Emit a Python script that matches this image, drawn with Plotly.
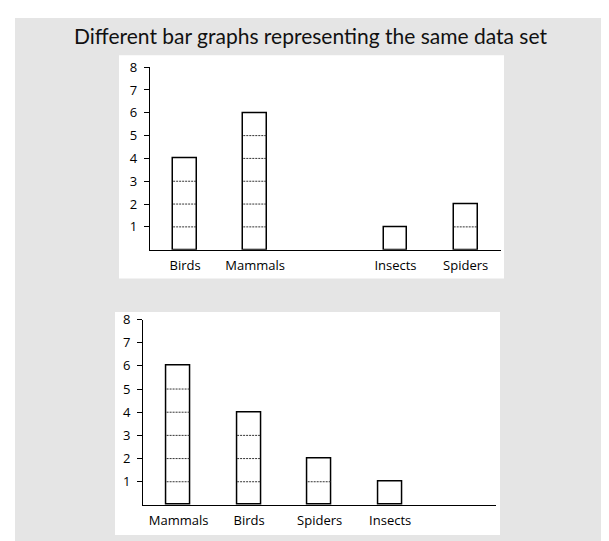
import plotly.graph_objects as go

# ---- data ----
animals = ["Birds", "Mammals", "Insects", "Spiders"]
counts = [4, 6, 1, 2]
top_order = ["Birds", "Mammals", " ", "Insects", "Spiders"]   # " " = empty gap slot
bottom_order = ["Mammals", "Birds", "Spiders", "Insects"]
y_ticks = [1, 2, 3, 4, 5, 6, 7, 8]
title_text = "Different bar graphs representing the same data set"

lookup = dict(zip(animals, counts))
top_vals = [lookup.get(c) for c in top_order]
bottom_vals = [lookup[c] for c in bottom_order]

# ---- layout helpers (figure pixel -> paper) ----
W, H = 601, 533
def px(x):
    return x / W
def py(y):
    return 1 - y / H

BAR_W = 0.34
GRAY = "#e5e5e5"
AXFONT = dict(family="Open Sans", size=13, color="#000")

fig = go.Figure()
fig.add_trace(go.Bar(x=top_order, y=top_vals, width=BAR_W, xaxis="x", yaxis="y",
                     marker=dict(color="white", line=dict(color="black", width=1.5)),
                     showlegend=False, hoverinfo="skip"))
fig.add_trace(go.Bar(x=bottom_order, y=bottom_vals, width=BAR_W, xaxis="x2", yaxis="y2",
                     marker=dict(color="white", line=dict(color="black", width=1.5)),
                     showlegend=False, hoverinfo="skip"))

shapes = [
    dict(type="rect", xref="paper", yref="paper", x0=px(7), x1=px(W + 5), y0=py(1), y1=py(H + 5),
         fillcolor=GRAY, line=dict(width=0), layer="below"),
    dict(type="rect", xref="paper", yref="paper", x0=px(111), x1=px(496), y0=py(39), y1=py(266),
         fillcolor="white", line=dict(width=0), layer="below"),
    dict(type="rect", xref="paper", yref="paper", x0=px(107), x1=px(492), y0=py(300), y1=py(527),
         fillcolor="white", line=dict(width=0), layer="below"),
]

def unit_lines(order, vals, xr, yr):
    out = []
    for i, (c, v) in enumerate(zip(order, vals)):
        if v is None:
            continue
        for k in range(1, int(v)):
            out.append(dict(type="line", xref=xr, yref=yr, x0=i - BAR_W / 2, x1=i + BAR_W / 2,
                            y0=k, y1=k, line=dict(color="#333", width=1, dash="2px,1px"),
                            layer="above"))
    return out

shapes += unit_lines(top_order, top_vals, "x", "y")
shapes += unit_lines(bottom_order, bottom_vals, "x2", "y2")

common_x = dict(showline=True, linecolor="black", linewidth=1.4, ticks="", showgrid=False,
                zeroline=False, tickfont=AXFONT, ticklabelstandoff=3, fixedrange=True)
common_y = dict(showline=True, linecolor="black", linewidth=1.4, ticks="outside", ticklen=5,
                tickwidth=1.4, tickcolor="black", showgrid=False, zeroline=False,
                tickvals=y_ticks, range=[0, 8], tickfont=AXFONT, ticklabelstandoff=4,
                fixedrange=True)

fig.update_layout(
    width=W, height=H, autosize=False,
    margin=dict(l=0, r=0, t=0, b=0, pad=0),
    paper_bgcolor="white", plot_bgcolor="rgba(0,0,0,0)",
    bargap=0,
    xaxis=dict(domain=[px(142), px(492.7)], anchor="y", type="category",
               categoryorder="array", categoryarray=top_order, range=[-0.5, 4.5], **common_x),
    yaxis=dict(domain=[py(236.7), py(51)], anchor="x", **common_y),
    xaxis2=dict(domain=[px(135.3), px(488)], anchor="y2", type="category",
                categoryorder="array", categoryarray=bottom_order, range=[-0.5, 4.5], **common_x),
    yaxis2=dict(domain=[py(496.3), py(307.7)], anchor="x2", **common_y),
    shapes=shapes,
    annotations=[dict(text=title_text, xref="paper", yref="paper", x=px(302), y=py(19),
                      xanchor="center", yanchor="middle", showarrow=False,
                      font=dict(family="Lato", size=21, color="#111"))],
)

fig.write_html("out.html")
